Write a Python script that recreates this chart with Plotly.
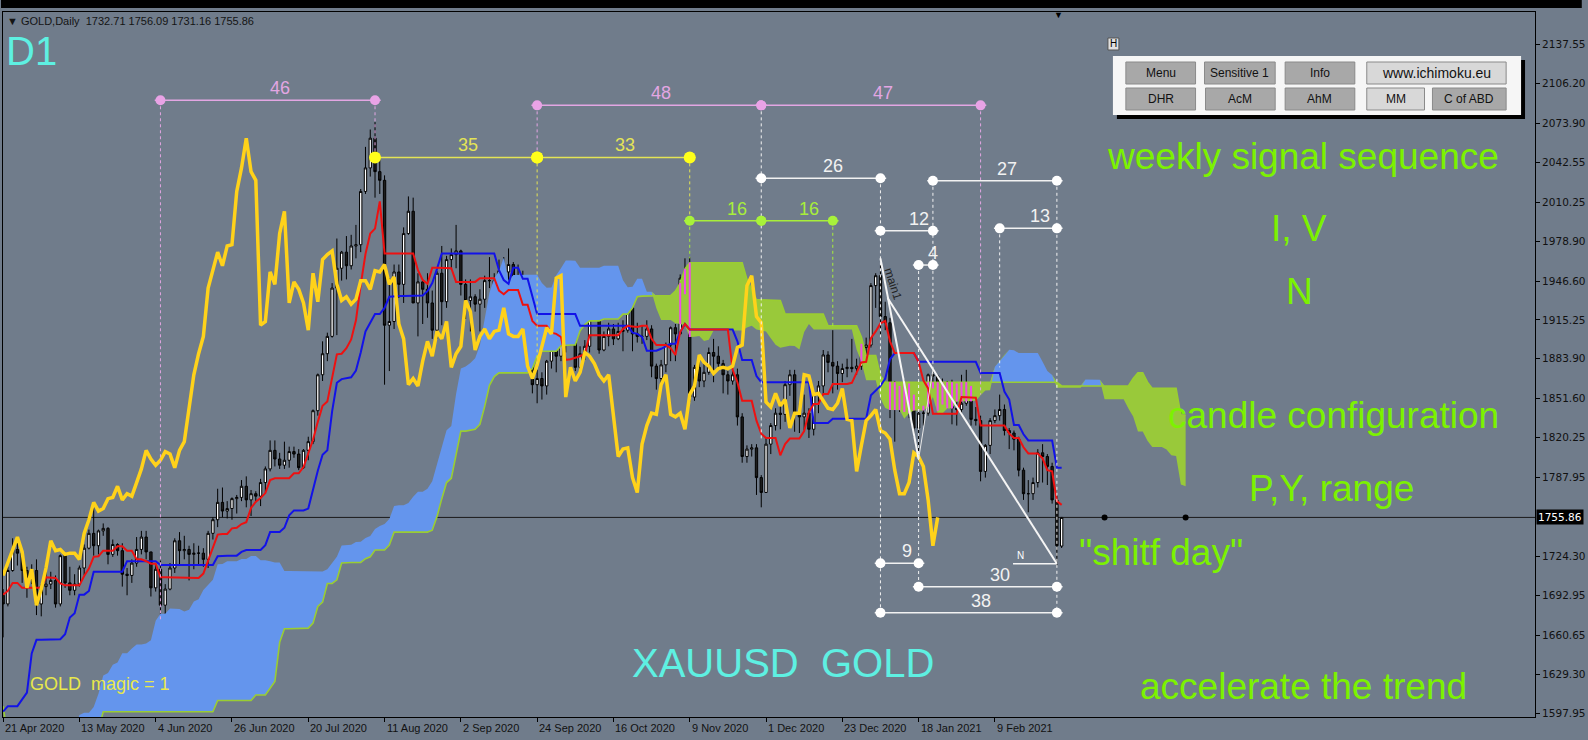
import numpy as np
import pandas as pd
import plotly.graph_objects as go

# ---------------- DATA ----------------
# hidden history (2 Jan - 20 Apr 2020) highs / lows, needed for the Ichimoku cloud
pre_high = [1529,1553,1582,1576,1611,1558,1562,1563,1549,1558,1558,1561,1566,1568,1560,1567,1573,1588,1583,1578,1582,1589,
            1591,1578,1563,1568,1575,1582,1576,1572,1580,1585,1586,1603,1613,1624,1649,1689,1661,1651,1659,1649,
            1603,1648,1649,1676,1693,1703,1674,1664,1654,1595,1575,1559,1548,1518,1512,1565,1617,1637,1636,1631,1629,1625,
            1595,1619,1625,1664,1672,1659,1690,1718,1747,1729,1735,1719,1698]
pre_low = [1518,1525,1552,1561,1556,1542,1544,1546,1536,1542,1547,1549,1555,1547,1551,1550,1558,1569,1564,1565,1568,1572,
           1573,1551,1548,1554,1561,1568,1563,1560,1564,1571,1578,1580,1599,1607,1617,1643,1627,1630,1636,1575,
           1573,1585,1630,1633,1662,1644,1633,1631,1565,1504,1451,1464,1472,1460,1471,1482,1545,1592,1603,1610,1611,1567,
           1568,1576,1603,1610,1641,1640,1646,1681,1710,1706,1707,1680,1672]

# visible daily candles, 21 Apr 2020 ... 1 Mar 2021
opens = [1693,1686,1713,1730,1727,1713,1707,1713,1686,1700, 1702,1705,1686,1725,1703,1697,1702,1715,1731,1743,
         1733,1745,1747,1726,1734,1729,1710,1709,1719,1730, 1740,1728,1699,1714,1685,1698,1715,1737,1729,1730,
         1726,1727,1727,1722,1743,1754,1768,1761,1763,1771, 1772,1781,1770,1775,1773,1784,1795,1810,1803,1798,
         1802,1809,1807,1796,1810,1817,1842,1871,1888,1902, 1941,1957,1970,1959,1975,1976,2019,2038,2062,2035,
         2028,1911,1914,1954,1944,1985,2003,1929,1946,1940, 1929,1907,1953,1930,1964,1968,1971,1944,1931,1934,
         1928,1932,1947,1947,1940,1955,1954,1960,1944,1950, 1912,1900,1863,1868,1862,1882,1898,1886,1906,1900,
         1914,1877,1888,1894,1931,1922,1891,1902,1908,1900, 1906,1907,1925,1904,1902,1902,1908,1878,1868,1879,
         1895,1909,1904,1949,1951,1853,1877,1866,1873,1889, 1886,1880,1871,1866,1871,1837,1805,1811,1812,1788,
         1776,1815,1830,1840,1839,1863,1871,1839,1837,1840, 1827,1855,1862,1887,1881,1878,1872,1876,1877,1876,
         1878,1893,1895,1943,1951,1918,1913,1849,1845,1856, 1846,1851,1828,1840,1840,1871,1870,1855,1856,1850,
         1844,1843,1848,1860,1835,1834,1793,1814,1834,1838, 1843,1826,1824,1819,1794,1775,1775,1784,1808,1805,
         1797,1770,1732.71]
highs = [1698,1716,1739,1738,1729,1716,1718,1722,1702,1716, 1712,1709,1726,1725,1716,1710,1717,1734,1746,1765,
         1746,1751,1748,1738,1735,1735,1715,1722,1740,1745, 1745,1728,1718,1721,1702,1719,1739,1744,1741,1733,
         1735,1733,1731,1745,1756,1779,1780,1769,1772,1774, 1786,1789,1778,1777,1787,1797,1818,1818,1808,1817,
         1813,1813,1811,1811,1821,1843,1872,1898,1905,1945, 1981,1971,1983,1984,1992,2021,2055,2069,2075,2048,
         2032,1949,1960,1960,1990,2015,2014,1953,1948,1953, 1939,1955,1975,1967,1973,1992,1972,1948,1948,1936,
         1940,1951,1966,1953,1964,1966,1973,1962,1960,1955, 1916,1903,1875,1873,1883,1900,1899,1917,1918,1919,
         1921,1894,1899,1933,1932,1925,1906,1913,1912,1913, 1915,1931,1926,1913,1911,1915,1911,1880,1883,1897,
         1910,1912,1952,1965,1966,1879,1883,1880,1893,1900, 1894,1883,1874,1875,1876,1840,1814,1815,1815,1790,
         1820,1832,1844,1848,1866,1875,1875,1848,1855,1844, 1856,1866,1891,1890,1907,1882,1880,1884,1900,1884,
         1896,1901,1945,1953,1960,1930,1917,1866,1862,1867, 1864,1855,1843,1846,1872,1876,1871,1868,1866,1867,
         1864,1871,1875,1862,1845,1838,1815,1836,1843,1855, 1847,1828,1826,1821,1796,1786,1788,1811,1815,1807,
         1800,1774,1756.09]
lows = [1659,1684,1712,1717,1703,1691,1702,1677,1676,1693, 1698,1683,1684,1699,1693,1693,1700,1709,1730,1725,
        1726,1741,1718,1724,1725,1700,1693,1703,1716,1726, 1722,1692,1696,1670,1677,1697,1711,1718,1722,1705,
        1714,1717,1716,1715,1738,1748,1756,1755,1754,1759, 1769,1764,1757,1768,1765,1775,1793,1797,1795,1795,
        1796,1804,1794,1795,1802,1815,1838,1866,1882,1901, 1903,1947,1948,1956,1965,1970,2017,2031,2014,2017,
        1863,1874,1908,1933,1929,1984,1929,1902,1912,1917, 1900,1900,1911,1925,1956,1957,1935,1916,1906,1922,
        1906,1925,1941,1935,1937,1947,1944,1931,1939,1882, 1892,1856,1848,1851,1855,1876,1873,1882,1889,1895,
        1874,1873,1883,1889,1917,1888,1890,1894,1895,1899, 1890,1905,1890,1897,1896,1899,1869,1859,1860,1873,
        1882,1882,1904,1936,1849,1850,1861,1861,1871,1865, 1877,1856,1855,1863,1830,1800,1800,1805,1774,1764,
        1776,1807,1826,1827,1833,1854,1825,1824,1826,1820, 1822,1840,1855,1873,1856,1859,1865,1869,1873,1871,
        1875,1886,1893,1925,1903,1907,1836,1817,1841,1841, 1836,1821,1803,1830,1838,1860,1842,1847,1844,1831,
        1830,1839,1846,1830,1830,1785,1788,1807,1832,1834, 1822,1811,1810,1789,1770,1760,1770,1780,1784,1782,
        1767,1717,1731.16]
closes = [1686,1713,1730,1727,1713,1707,1713,1686,1700,1702, 1705,1686,1725,1703,1697,1702,1715,1731,1743,1733,
          1745,1747,1726,1734,1729,1710,1709,1719,1730,1740, 1728,1699,1714,1685,1698,1715,1737,1729,1730,1726,
          1727,1727,1722,1743,1754,1768,1761,1763,1771,1772, 1781,1770,1775,1773,1784,1795,1810,1803,1798,1802,
          1809,1807,1796,1810,1817,1842,1871,1888,1902,1941, 1957,1970,1959,1975,1976,2019,2038,2062,2035,2028,
          1911,1914,1954,1944,1985,2003,1929,1946,1940,1929, 1907,1953,1930,1964,1968,1971,1944,1931,1934,1928,
          1932,1947,1947,1940,1955,1954,1960,1944,1950,1912, 1900,1863,1868,1862,1882,1898,1886,1906,1900,1914,
          1877,1888,1894,1931,1922,1891,1902,1908,1900,1906, 1907,1925,1904,1902,1902,1908,1878,1868,1879,1895,
          1909,1904,1949,1951,1853,1877,1866,1873,1889,1886, 1880,1871,1866,1871,1837,1805,1811,1812,1788,1776,
          1815,1830,1840,1839,1863,1871,1839,1837,1840,1827, 1855,1862,1887,1881,1878,1872,1876,1877,1876,1878,
          1893,1895,1943,1951,1918,1913,1849,1845,1856,1846, 1851,1828,1840,1840,1871,1870,1855,1856,1850,1844,
          1843,1848,1860,1835,1834,1793,1814,1834,1838,1843, 1826,1824,1819,1794,1775,1775,1784,1808,1805,1797,
          1770,1733,1755.86]

date_idx = [0, 16, 32, 48, 64, 80, 96, 112, 128, 144, 160, 176, 192, 208]
date_text = ["21 Apr 2020", "13 May 2020", "4 Jun 2020", "26 Jun 2020", "20 Jul 2020", "11 Aug 2020",
             "2 Sep 2020", "24 Sep 2020", "16 Oct 2020", "9 Nov 2020", "1 Dec 2020", "23 Dec 2020",
             "18 Jan 2021", "9 Feb 2021"]
price_ticks = [2137.55, 2106.20, 2073.90, 2042.55, 2010.25, 1978.90, 1946.60, 1915.25, 1883.90,
               1851.60, 1820.25, 1787.95, 1724.30, 1692.95, 1660.65, 1629.30, 1597.95]
last_price = 1755.86

# time-count measurements: (from bar, to bar, price level, label, colour group)
spans = [(33, 78, 2092.6, "46", "pink"), (112, 159, 2088.5, "48", "pink"), (159, 205, 2088.5, "47", "pink"),
         (78, 112, 2046.5, "35", "yellow"), (112, 144, 2046.5, "33", "yellow"),
         (144, 159, 1995.3, "16", "green"), (159, 174, 1995.3, "16", "green"),
         (159, 184, 2029.6, "26", "white"), (195, 221, 2027.6, "27", "white"),
         (184, 195, 1987.3, "12", "white"), (209, 221, 1989.2, "13", "white"),
         (192, 195, 1959.6, "4", "white"), (184, 192, 1718.8, "9", "white"),
         (192, 221, 1699.9, "30", "white"), (184, 221, 1678.9, "38", "white")]
# dashed verticals: (bar, top price, bottom price, colour group)
verts = [(33, 2092.6, 1672, "pink"), (78, 2092.6, 2046.5, "pink"), (112, 2088.5, 2046.5, "pink"),
         (112, 2046.5, 1876, "yellow"), (144, 2046.5, 1995.3, "yellow"), (144, 1995.3, 1965, "green"),
         (159, 2088.5, 1818, "white"), (174, 1995.3, 1909, "green"), (205, 2088.5, 1855, "pink"),
         (184, 2029.6, 1678.9, "white"), (192, 1959.6, 1699.9, "white"), (195, 2027.6, 1872, "white"),
         (209, 1989.2, 1877, "white"), (221, 2027.6, 1678.9, "white")]
# wave drawing (bar, price)
main1_x = [184, 192]
main1_y = [1965, 1803]
thin_x = [192, 195]
thin_y = [1803, 1875]
long_x = [185.5, 221]
long_y = [1933, 1718.5]
n_x = [211.8, 221]
n_y = [1718.5, 1718.5]
future_dots = [231, 248]

# ---------------- STYLE ----------------
BG = "#707c8b"
COL = {"pink": "#e3a6e3", "yellow": "#e4e455", "green": "#a8ee3a", "white": "#f2f2f2"}
DOT = {"pink": "#e9a3e6", "yellow": "#ffff1a", "green": "#a8f23a", "white": "#ffffff"}
FONT = "Liberation Sans, Arial, sans-serif"
L_PX, R_PX, T_PX, B_PX = 2, 1541, 12, 717


def px(X):
    return (X - L_PX) / (R_PX - L_PX)


def py(Y):
    return (B_PX - Y) / (B_PX - T_PX)


N = len(closes)
hi_c = [max(h, o, c) for h, o, c in zip(highs, opens, closes)]
lo_c = [min(l, o, c) for l, o, c in zip(lows, opens, closes)]
idx = list(range(N))

H = pd.Series(pre_high + hi_c, dtype=float)
L = pd.Series(pre_low + lo_c, dtype=float)
n_pre = len(pre_high)
tenkan_all = (H.rolling(9).max() + L.rolling(9).min()) / 2
kijun_all = (H.rolling(26).max() + L.rolling(26).min()) / 2
spanA_all = ((tenkan_all + kijun_all) / 2).values
spanB_all = ((H.rolling(52).max() + L.rolling(52).min()) / 2).values
tenkan = tenkan_all.values[n_pre:]
kijun = kijun_all.values[n_pre:]

cx, ca, cb = [], [], []
for i in range(0, N + 26):
    t = i + n_pre - 26
    if 0 <= t < len(spanA_all) and not np.isnan(spanB_all[t]):
        cx.append(i)
        ca.append(spanA_all[t])
        cb.append(spanB_all[t])
ca = np.array(ca)
cb = np.array(cb)
cmax = np.maximum(ca, cb)

fig = go.Figure()
# cloud
fig.add_trace(go.Scatter(x=cx, y=cb, mode="lines", line=dict(width=0), hoverinfo="skip"))
fig.add_trace(go.Scatter(x=cx, y=cmax, mode="lines", line=dict(width=0), fill="tonexty",
                         fillcolor="#6495ed", hoverinfo="skip"))
fig.add_trace(go.Scatter(x=cx, y=ca, mode="lines", line=dict(width=0), hoverinfo="skip"))
fig.add_trace(go.Scatter(x=cx, y=cmax, mode="lines", line=dict(width=0), fill="tonexty",
                         fillcolor="#99c93a", hoverinfo="skip"))
fig.add_trace(go.Scatter(x=cx, y=cb, mode="lines", line=dict(color="#9acd32", width=1.6), hoverinfo="skip"))

# candles
fig.add_trace(go.Candlestick(x=idx, open=opens, high=hi_c, low=lo_c, close=closes,
                             increasing=dict(line=dict(color="#000000", width=1), fillcolor="#ffffff"),
                             decreasing=dict(line=dict(color="#000000", width=1), fillcolor="#1e1e1e"),
                             whiskerwidth=0, hoverinfo="skip"))

# magenta stripes where the bar sits inside the bearish kumo
mx, my = [], []
cdict = {x: (a, b) for x, a, b in zip(cx, ca, cb)}
for i in idx:
    if i in cdict:
        a, b = cdict[i]
        if b > a:
            lo = max(lo_c[i], a)
            hi = min(hi_c[i], b)
            if hi > lo:
                mx += [i, i, None]
                my += [lo, hi, None]
fig.add_trace(go.Scatter(x=mx, y=my, mode="lines", line=dict(color="#f048e8", width=2), hoverinfo="skip"))

# Ichimoku lines
fig.add_trace(go.Scatter(x=idx, y=kijun, mode="lines", line=dict(color="#1212e8", width=2), hoverinfo="skip"))
fig.add_trace(go.Scatter(x=idx, y=tenkan, mode="lines", line=dict(color="#ee1111", width=2), hoverinfo="skip"))
fig.add_trace(go.Scatter(x=idx[:N - 26], y=closes[26:], mode="lines",
                         line=dict(color="#ffd21a", width=3.5), hoverinfo="skip"))

# dashed verticals
for grp in COL:
    vx, vy = [], []
    for b, top, bot, g in verts:
        if g == grp:
            vx += [b, b, None]
            vy += [top, bot, None]
    if vx:
        fig.add_trace(go.Scatter(x=vx, y=vy, mode="lines",
                                 line=dict(color=COL[grp], width=1, dash="3px,3px"), hoverinfo="skip"))

annotations = []
# measurement spans
for x0, x1, lvl, lab, g in spans:
    fig.add_trace(go.Scatter(x=[x0 - 1.2, x1 + 1.2], y=[lvl, lvl], mode="lines",
                             line=dict(color=COL[g], width=1.5), hoverinfo="skip"))
    size = 12 if g == "yellow" else 10
    fig.add_trace(go.Scatter(x=[x0, x1], y=[lvl, lvl], mode="markers",
                             marker=dict(color=DOT[g], size=size), hoverinfo="skip"))
    annotations.append(dict(x=(x0 + x1) / 2, y=lvl, xref="x", yref="y", text=lab, showarrow=False,
                            xanchor="left", yanchor="middle", yshift=12,
                            font=dict(family=FONT, size=18, color=COL[g])))

# wave lines
fig.add_trace(go.Scatter(x=main1_x, y=main1_y, mode="lines", line=dict(color="#f5f5f5", width=2), hoverinfo="skip"))
fig.add_trace(go.Scatter(x=thin_x, y=thin_y, mode="lines", line=dict(color="#e8e8e8", width=1), hoverinfo="skip"))
fig.add_trace(go.Scatter(x=long_x, y=long_y, mode="lines", line=dict(color="#f5f5f5", width=2), hoverinfo="skip"))
fig.add_trace(go.Scatter(x=n_x, y=n_y, mode="lines", line=dict(color="#f5f5f5", width=1.5), hoverinfo="skip"))
fig.add_trace(go.Scatter(x=future_dots, y=[last_price] * len(future_dots), mode="markers",
                         marker=dict(color="#000000", size=6), hoverinfo="skip"))

annotations.append(dict(x=186.6, y=1944, xref="x", yref="y", text="main1", showarrow=False, textangle=72,
                        font=dict(family=FONT, size=12, color="#222222")))
annotations.append(dict(x=212.2, y=1718.5, xref="x", yref="y", text="N", showarrow=False,
                        xanchor="left", yanchor="bottom", yshift=1,
                        font=dict(family=FONT, size=10, color="#ffffff")))

# date labels (left-anchored at the tick like MT4)
for i, t in zip(date_idx, date_text):
    annotations.append(dict(x=i, y=py(728), xref="x", yref="paper", text=t, showarrow=False,
                            xanchor="left", yanchor="middle", xshift=0,
                            font=dict(family=FONT, size=11, color="#111111")))

# current price label on the axis
annotations.append(dict(x=1, y=last_price, xref="paper", yref="y", text="1755.86", showarrow=False,
                        xanchor="left", yanchor="middle", xshift=1, bgcolor="#000000", borderpad=1,
                        font=dict(family="DejaVu Sans", size=10.5, color="#ffffff")))

# header and texts
annotations.append(dict(x=px(4), y=py(21), xref="paper", yref="paper", showarrow=False,
                        text="\u25bc GOLD,Daily\u00a0\u00a01732.71 1756.09 1731.16 1755.86",
                        xanchor="left", yanchor="middle", font=dict(family=FONT, size=11, color="#141414")))
annotations.append(dict(x=px(1062), y=py(15), xref="paper", yref="paper", showarrow=False, text="\u25bc",
                        xanchor="center", yanchor="middle", font=dict(family=FONT, size=9, color="#000000")))
annotations.append(dict(x=px(31), y=py(51), xref="paper", yref="paper", showarrow=False, text="D1",
                        xanchor="center", yanchor="middle", font=dict(family=FONT, size=40, color="#5ef0e2")))
annotations.append(dict(x=px(786), y=py(663), xref="paper", yref="paper", showarrow=False,
                        text="XAUUSD\u00a0\u00a0GOLD", xanchor="center", yanchor="middle",
                        font=dict(family=FONT, size=40, color="#5ef0e2")))
annotations.append(dict(x=px(27), y=py(684), xref="paper", yref="paper", showarrow=False,
                        text="GOLD\u00a0\u00a0magic = 1", xanchor="left", yanchor="middle",
                        font=dict(family=FONT, size=18, color="#e8e84a")))
GREEN_T = "#7cf200"
for txt, X, Y in [("weekly signal sequence", 1308, 157), ("I, V", 1304, 228), ("N", 1304, 291),
                  ("candle configuration", 1339, 415), ("P,Y, range", 1337, 488),
                  ("\"shitf day\"", 1165, 552), ("accelerate the trend", 1308, 686)]:
    annotations.append(dict(x=px(X), y=py(Y), xref="paper", yref="paper", showarrow=False, text=txt,
                            xanchor="center", yanchor="middle", font=dict(family=FONT, size=37, color=GREEN_T)))

# button panel
shapes = []
shapes.append(dict(type="rect", xref="paper", yref="paper", x0=px(0), x1=px(1588), y0=py(0), y1=py(8),
                   fillcolor="#000000", line=dict(width=0), layer="above"))
shapes.append(dict(type="line", xref="paper", yref="y", x0=0, x1=1, y0=last_price, y1=last_price,
                   line=dict(color="#1a1a1a", width=1), layer="below"))
shapes.append(dict(type="rect", xref="paper", yref="paper", x0=px(1121), x1=px(1531), y0=py(60), y1=py(119),
                   fillcolor="#000000", line=dict(width=0), layer="above"))
shapes.append(dict(type="rect", xref="paper", yref="paper", x0=px(1117), x1=px(1527), y0=py(56), y1=py(115),
                   fillcolor="#f6f6f6", line=dict(width=0), layer="above"))
shapes.append(dict(type="rect", xref="paper", yref="paper", x0=px(1112), x1=px(1123), y0=py(38), y1=py(50),
                   fillcolor="#e0e0e0", line=dict(color="#555555", width=1), layer="above"))
annotations.append(dict(x=px(1117.5), y=py(44), xref="paper", yref="paper", showarrow=False, text="H",
                        xanchor="center", yanchor="middle",
                        font=dict(family=FONT, size=10, color="#000000")))
buttons = [("Menu", 1130, 1200, 62, 84, "#a8a8a8"), ("Sensitive 1", 1209, 1280, 62, 84, "#a8a8a8"),
           ("Info", 1290, 1360, 62, 84, "#a8a8a8"), ("www.ichimoku.eu", 1372, 1512, 62, 84, "#d8d8d8"),
           ("DHR", 1130, 1200, 88, 110, "#a8a8a8"), ("AcM", 1210, 1280, 88, 110, "#a8a8a8"),
           ("AhM", 1290, 1360, 88, 110, "#a8a8a8"), ("MM", 1372, 1430, 88, 110, "#d8d8d8"),
           ("C of ABD", 1438, 1512, 88, 110, "#a8a8a8")]
for txt, x0, x1, y0, y1, fc in buttons:
    shapes.append(dict(type="rect", xref="paper", yref="paper", x0=px(x0), x1=px(x1), y0=py(y0), y1=py(y1),
                       fillcolor=fc, line=dict(color="#8a8a8a", width=1), layer="above"))
    annotations.append(dict(x=px((x0 + x1) / 2), y=py((y0 + y1) / 2), xref="paper", yref="paper",
                            showarrow=False, text=txt, xanchor="center", yanchor="middle",
                            font=dict(family=FONT, size=14 if "www" in txt else 12, color="#111111")))

fig.update_layout(
    width=1588, height=740, margin=dict(l=L_PX, r=1588 - R_PX, t=T_PX, b=740 - B_PX),
    paper_bgcolor=BG, plot_bgcolor=BG, showlegend=False, shapes=shapes, annotations=annotations,
    xaxis=dict(range=[-0.02, 321.27], showgrid=False, zeroline=False, showline=True, mirror=True,
               linecolor="#000000", linewidth=1, tickvals=date_idx, ticks="outside", ticklen=4,
               tickcolor="#000000", showticklabels=False, rangeslider=dict(visible=False), fixedrange=True),
    yaxis=dict(side="right", range=[1594.73, 2163.87], tickvals=price_ticks,
               ticktext=["%.2f" % v for v in price_ticks], ticks="outside", ticklen=4, tickcolor="#000000",
               showgrid=False, zeroline=False, showline=True, mirror=True, linecolor="#000000", linewidth=1,
               tickfont=dict(family="DejaVu Sans", size=10.5, color="#111111"), fixedrange=True),
)
fig.write_html("out.html", config=dict(displayModeBar=False),
               post_script="document.body.style.margin='0';document.body.style.padding='0';"
                           "document.body.style.background='" + BG + "';")
